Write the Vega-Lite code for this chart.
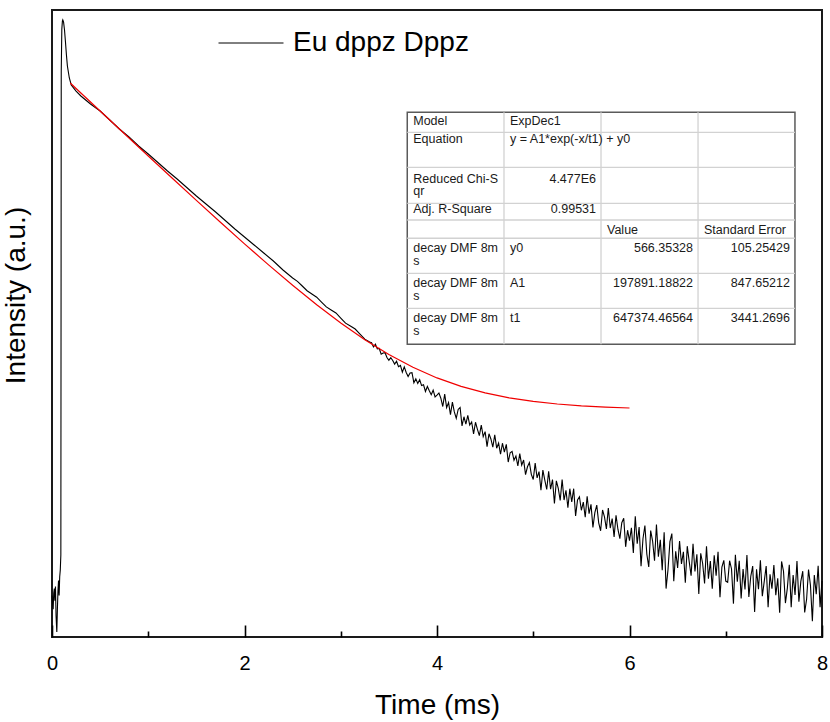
{
 "$schema": "https://vega.github.io/schema/vega-lite/v6.json",
 "width": 770,
 "height": 627,
 "autosize": {"type": "none"},
 "padding": {"left": 52, "top": 10, "right": 8, "bottom": 85},
 "config": {
  "font": "Liberation Sans",
  "view": {"stroke": "#1a1a1a", "strokeWidth": 2},
  "axis": {"grid": false}
 },
 "datasets": {
  "decay": [
   {"t":0,"I":24},{"t":0.006,"I":21},{"t":0.012,"I":19},{"t":0.018,"I":25},{"t":0.024,"I":27},{"t":0.03,"I":22},{"t":0.036,"I":28},{"t":0.042,"I":17},{"t":0.05,"I":12.9},{"t":0.056,"I":19},{"t":0.062,"I":26},{"t":0.068,"I":31},{"t":0.074,"I":24},{"t":0.08,"I":33},{"t":0.086,"I":37},{"t":0.092,"I":48},
   {"t":0.096,"I":180000},{"t":0.102,"I":370000},{"t":0.108,"I":425000},{"t":0.112,"I":433500},{"t":0.12,"I":418800},{"t":0.13,"I":365500},{"t":0.14,"I":298000},{"t":0.15,"I":238800},{"t":0.16,"I":198000},{"t":0.18,"I":161400},{"t":0.2,"I":143200},{"t":0.25,"I":129300},{"t":0.3,"I":118800},{"t":0.4,"I":103600},{"t":0.5,"I":91990},{"t":0.6,"I":78940},{"t":0.7,"I":67700},{"t":0.8,"I":59060},{"t":0.9,"I":50690},{"t":1.0,"I":44240},{"t":1.1,"I":38260},{"t":1.2,"I":33110},{"t":1.3,"I":28890},{"t":1.4,"I":25000},{"t":1.5,"I":21630},{"t":1.6,"I":18870},{"t":1.7,"I":16470},{"t":1.8,"I":14250},{"t":1.9,"I":12330},{"t":2.0,"I":10760},{"t":2.1,"I":9390},{"t":2.2,"I":8194},{"t":2.3,"I":7151},{"t":2.4,"I":6133},{"t":2.5,"I":5352},{"t":2.55,"I":5060},{"t":2.6,"I":4670},{"t":2.65,"I":4310},{"t":2.7,"I":4076},{"t":2.75,"I":3860},{"t":2.8,"I":3556},{"t":2.85,"I":3270},{"t":2.9,"I":3103},{"t":2.95,"I":2950},{"t":3.0,"I":2708},{"t":3.05,"I":2480},{"t":3.1,"I":2363},{"t":3.15,"I":2245},{"t":3.2,"I":2062},{"t":3.25,"I":1890},{"t":3.3,"I":1799},
   {"t":3.32,"I":1777},{"t":3.34,"I":1653},{"t":3.36,"I":1734},{"t":3.38,"I":1599},{"t":3.4,"I":1612},{"t":3.42,"I":1463},{"t":3.44,"I":1492},{"t":3.46,"I":1500},{"t":3.48,"I":1383},{"t":3.5,"I":1320},{"t":3.52,"I":1378},{"t":3.54,"I":1314},{"t":3.56,"I":1236},{"t":3.58,"I":1297},{"t":3.6,"I":1183},{"t":3.62,"I":1207},{"t":3.64,"I":1075},{"t":3.66,"I":1179},{"t":3.68,"I":1071},{"t":3.7,"I":1001},{"t":3.72,"I":1062},{"t":3.74,"I":1068},{"t":3.76,"I":900},{"t":3.78,"I":960},{"t":3.8,"I":889},{"t":3.82,"I":946},{"t":3.84,"I":857},{"t":3.86,"I":868},{"t":3.88,"I":775},{"t":3.9,"I":843},{"t":3.92,"I":784},{"t":3.94,"I":733},{"t":3.96,"I":792},{"t":3.98,"I":706},{"t":4.0,"I":727},
   {"t":4.02,"I":755},{"t":4.04,"I":691},{"t":4.06,"I":600},{"t":4.08,"I":740},{"t":4.1,"I":589},{"t":4.12,"I":641},{"t":4.14,"I":522},{"t":4.16,"I":646},{"t":4.18,"I":547},{"t":4.2,"I":491},{"t":4.22,"I":571},{"t":4.24,"I":591},{"t":4.26,"I":431},{"t":4.28,"I":504},{"t":4.3,"I":445},{"t":4.32,"I":516},{"t":4.34,"I":437},{"t":4.36,"I":461},{"t":4.38,"I":376},{"t":4.4,"I":459},{"t":4.42,"I":407},{"t":4.44,"I":366},{"t":4.46,"I":438},{"t":4.48,"I":359},{"t":4.5,"I":391},{"t":4.52,"I":303},{"t":4.54,"I":377},{"t":4.56,"I":345},{"t":4.58,"I":300},{"t":4.6,"I":371},{"t":4.62,"I":295},{"t":4.64,"I":322},{"t":4.66,"I":266},{"t":4.68,"I":321},{"t":4.7,"I":276},{"t":4.72,"I":315},{"t":4.74,"I":233},{"t":4.76,"I":273},{"t":4.78,"I":279},{"t":4.8,"I":240},{"t":4.82,"I":258},{"t":4.84,"I":218},{"t":4.86,"I":269},{"t":4.88,"I":221},{"t":4.9,"I":241},{"t":4.92,"I":188},{"t":4.94,"I":215},{"t":4.96,"I":231},{"t":4.98,"I":189},{"t":5.0,"I":173},
   {"t":5.02,"I":229},{"t":5.04,"I":178},{"t":5.06,"I":198},{"t":5.08,"I":144},{"t":5.1,"I":203},{"t":5.12,"I":171},{"t":5.14,"I":146},{"t":5.16,"I":199},{"t":5.18,"I":147},{"t":5.2,"I":173},{"t":5.22,"I":115},{"t":5.24,"I":169},{"t":5.26,"I":149},{"t":5.28,"I":121},{"t":5.3,"I":173},{"t":5.32,"I":122},{"t":5.34,"I":144},{"t":5.36,"I":107},{"t":5.38,"I":148},{"t":5.4,"I":118},{"t":5.42,"I":148},{"t":5.44,"I":93},{"t":5.46,"I":122},{"t":5.48,"I":129},{"t":5.5,"I":102.5},{"t":5.52,"I":117.7},{"t":5.54,"I":91},{"t":5.56,"I":130},{"t":5.58,"I":96.8},{"t":5.6,"I":113.4},{"t":5.62,"I":76.4},{"t":5.64,"I":98.5},{"t":5.66,"I":111.9},{"t":5.68,"I":82.7},{"t":5.7,"I":72.3},{"t":5.72,"I":103},{"t":5.74,"I":91.5},{"t":5.76,"I":74.5},{"t":5.78,"I":106.6},{"t":5.8,"I":75.7},{"t":5.82,"I":88.9},{"t":5.84,"I":65.1},{"t":5.86,"I":94.2},{"t":5.88,"I":73.9},{"t":5.9,"I":63.3},{"t":5.92,"I":82.9},{"t":5.94,"I":89.6},{"t":5.96,"I":55.0},{"t":5.98,"I":73.0},{"t":6.0,"I":61.1},
   {"t":6.02,"I":75.9},{"t":6.04,"I":49.5},{"t":6.06,"I":92.6},{"t":6.08,"I":57.9},{"t":6.1,"I":76.9},{"t":6.12,"I":39.5},{"t":6.14,"I":63.1},{"t":6.16,"I":79.1},{"t":6.18,"I":48.6},{"t":6.2,"I":39.0},{"t":6.22,"I":72.5},{"t":6.24,"I":60.7},{"t":6.26,"I":43.4},{"t":6.28,"I":80.4},{"t":6.3,"I":46.4},{"t":6.32,"I":62.0},{"t":6.34,"I":36.9},{"t":6.36,"I":70.4},{"t":6.38,"I":27},{"t":6.4,"I":37.3},{"t":6.42,"I":60.1},{"t":6.44,"I":69.0},{"t":6.46,"I":30.6},{"t":6.48,"I":51.0},{"t":6.5,"I":38.4},{"t":6.52,"I":60.7},{"t":6.54,"I":41.1},{"t":6.56,"I":50.6},{"t":6.58,"I":29.8},{"t":6.6,"I":55.6},{"t":6.62,"I":42.9},{"t":6.64,"I":33.6},{"t":6.66,"I":57.9},{"t":6.68,"I":36.1},{"t":6.7,"I":48.4},{"t":6.72,"I":24.6},{"t":6.74,"I":49.3},{"t":6.76,"I":41.4},{"t":6.78,"I":29.5},{"t":6.8,"I":55.5},{"t":6.82,"I":31.9},{"t":6.84,"I":43.1},{"t":6.86,"I":26.9},{"t":6.88,"I":47.7},{"t":6.9,"I":33.6},{"t":6.92,"I":50.5},{"t":6.94,"I":23.3},{"t":6.96,"I":39.0},{"t":6.98,"I":43.7},{"t":7.0,"I":30.7},
   {"t":7.02,"I":30.1},{"t":7.04,"I":43.4},{"t":7.06,"I":37.7},{"t":7.08,"I":20.9},{"t":7.1,"I":48.0},{"t":7.12,"I":30.4},{"t":7.14,"I":43.4},{"t":7.16,"I":22.8},{"t":7.18,"I":37.6},{"t":7.2,"I":26.6},{"t":7.22,"I":47.8},{"t":7.24,"I":23.4},{"t":7.26,"I":33.3},{"t":7.28,"I":39.6},{"t":7.3,"I":18.1},{"t":7.32,"I":37.5},{"t":7.34,"I":26.7},{"t":7.36,"I":43.8},{"t":7.38,"I":23.7},{"t":7.4,"I":30.5},{"t":7.42,"I":39.7},{"t":7.44,"I":19.7},{"t":7.46,"I":34.5},{"t":7.48,"I":27.0},{"t":7.5,"I":40.4},{"t":7.52,"I":24.1},{"t":7.54,"I":32.2},{"t":7.56,"I":17.9},{"t":7.58,"I":42.9},{"t":7.6,"I":36.3},{"t":7.62,"I":21.1},{"t":7.64,"I":27.2},{"t":7.66,"I":40.5},{"t":7.68,"I":19.7},{"t":7.7,"I":34.0},{"t":7.72,"I":24.2},{"t":7.74,"I":43.1},{"t":7.76,"I":21.6},{"t":7.78,"I":30.5},{"t":7.8,"I":36.3},{"t":7.82,"I":18.0},{"t":7.84,"I":22.5},{"t":7.86,"I":37.4},{"t":7.88,"I":28.6},{"t":7.9,"I":15.5},{"t":7.92,"I":34.0},{"t":7.94,"I":24.5},{"t":7.96,"I":39.8},{"t":7.98,"I":19.7},{"t":8.0,"I":30.8}
  ],
  "fit": [
   {"t":0.19,"I":148129},{"t":0.25,"I":135057},{"t":0.5,"I":91972},{"t":0.75,"I":62690},{"t":1.0,"I":42788},{"t":1.25,"I":29262},{"t":1.5,"I":20070},{"t":1.75,"I":13821},{"t":2.0,"I":9576},{"t":2.25,"I":6689},{"t":2.5,"I":4728},{"t":2.75,"I":3394},{"t":3.0,"I":2488},{"t":3.25,"I":1873},{"t":3.5,"I":1454},{"t":3.75,"I":1170},{"t":4.0,"I":976},{"t":4.25,"I":845},{"t":4.5,"I":756},{"t":4.75,"I":695},{"t":5.0,"I":654},{"t":5.25,"I":626},{"t":5.5,"I":607},{"t":5.75,"I":594},{"t":6.0,"I":585}
  ],
  "tableBox": [{"t": 3.691, "t2": 7.719, "I": 89970, "I2": 1730}],
  "tableRows": [
   {"t": 3.691, "t2": 7.719, "I": 64000},{"t": 3.691, "t2": 7.719, "I": 35270},{"t": 3.691, "t2": 7.719, "I": 19100},{"t": 3.691, "t2": 7.719, "I": 14380},{"t": 3.691, "t2": 7.719, "I": 10530},{"t": 3.691, "t2": 7.719, "I": 5800},{"t": 3.691, "t2": 7.719, "I": 3195}
  ],
  "tableCols": [
   {"t": 4.696, "I": 89970, "I2": 1730},{"t": 5.704, "I": 89970, "I2": 1730},{"t": 6.712, "I": 89970, "I2": 1730}
  ],
  "tableLeft": [
   {"t": 3.691, "I": 72480, "txt": "Model"},
   {"t": 4.696, "I": 72480, "txt": "ExpDec1"},
   {"t": 3.691, "I": 53070, "txt": "Equation"},
   {"t": 4.696, "I": 53070, "txt": "y = A1*exp(-x/t1) + y0"},
   {"t": 3.691, "I": 27080, "txt": "Reduced Chi-S\nqr"},
   {"t": 3.691, "I": 16060, "txt": "Adj. R-Square"},
   {"t": 5.704, "I": 11420, "txt": "Value"},
   {"t": 6.712, "I": 11420, "txt": "Standard Error"},
   {"t": 3.691, "I": 8333, "txt": "decay DMF 8m\ns"},
   {"t": 4.696, "I": 8333, "txt": "y0"},
   {"t": 3.691, "I": 4592, "txt": "decay DMF 8m\ns"},
   {"t": 4.696, "I": 4592, "txt": "A1"},
   {"t": 3.691, "I": 2530, "txt": "decay DMF 8m\ns"},
   {"t": 4.696, "I": 2530, "txt": "t1"}
  ],
  "tableRight": [
   {"t": 5.704, "I": 27080, "txt": "4.477E6"},
   {"t": 5.704, "I": 16060, "txt": "0.99531"},
   {"t": 6.712, "I": 8333, "txt": "566.35328"},
   {"t": 7.719, "I": 8333, "txt": "105.25429"},
   {"t": 6.712, "I": 4592, "txt": "197891.18822"},
   {"t": 7.719, "I": 4592, "txt": "847.65212"},
   {"t": 6.712, "I": 2530, "txt": "647374.46564"},
   {"t": 7.719, "I": 2530, "txt": "3441.2696"}
  ]
 },
 "layer": [
  {
   "data": {"name": "decay"},
   "mark": {"type": "line", "strokeWidth": 1.1, "interpolate": "linear"},
   "encoding": {
    "x": {"field": "t", "type": "quantitative",
     "scale": {"domain": [0, 8], "nice": false, "zero": false},
     "axis": {"title": "Time (ms)", "values": [0,1,2,3,4,5,6,7,8], "format": "d",
      "labelExpr": "datum.value % 2 === 0 ? datum.label : ''",
      "domain": false, "tickColor": "black", "tickWidth": 1.6,
      "tickSize": -12,
      "tickDash": {"condition": {"test": "datum.value % 2 === 0", "value": [20, 0]}, "value": [6, 20]},
      "labelFontSize": 20, "labelColor": "black", "labelBaseline": "alphabetic", "labelPadding": 44, "labelFlush": false,
      "titleFontSize": 28, "titleFontWeight": "normal", "titleColor": "black", "titleBaseline": "alphabetic", "titleY": 76}},
    "y": {"field": "I", "type": "quantitative",
     "scale": {"type": "log", "domain": [11.84, 513800], "nice": false},
     "axis": {"title": "Intensity (a.u.)", "ticks": false, "labels": false, "domain": false,
      "titleFontSize": 28, "titleFontWeight": "normal", "titleColor": "black",
      "titleX": -36, "titleY": 285, "titleBaseline": "middle", "titleAlign": "center", "titleAngle": -90}},
    "color": {"datum": "Eu dppz Dppz", "scale": {"range": ["black"]},
     "legend": {"orient": "none", "legendX": 166, "legendY": 0, "title": null, "padding": 0,
      "symbolType": "stroke", "symbolSize": 4225, "symbolStrokeWidth": 1, "symbolStrokeColor": "black",
      "labelFontSize": 28, "labelOffset": 9, "labelColor": "black", "labelLimit": 400}}
   }
  },
  {
   "data": {"name": "fit"},
   "mark": {"type": "line", "color": "#f00000", "strokeWidth": 1.2},
   "encoding": {
    "x": {"field": "t", "type": "quantitative"},
    "y": {"field": "I", "type": "quantitative"}
   }
  },
  {
   "data": {"name": "tableBox"},
   "mark": {"type": "rect", "fill": "white", "stroke": "#5a5a5a", "strokeWidth": 1.5},
   "encoding": {
    "x": {"field": "t", "type": "quantitative"}, "x2": {"field": "t2"},
    "y": {"field": "I", "type": "quantitative"}, "y2": {"field": "I2"}
   }
  },
  {
   "data": {"name": "tableRows"},
   "mark": {"type": "rule", "color": "#d2d2d2", "strokeWidth": 1.3},
   "encoding": {
    "x": {"field": "t", "type": "quantitative"}, "x2": {"field": "t2"},
    "y": {"field": "I", "type": "quantitative"}
   }
  },
  {
   "data": {"name": "tableCols"},
   "mark": {"type": "rule", "color": "#d2d2d2", "strokeWidth": 1.3},
   "encoding": {
    "x": {"field": "t", "type": "quantitative"},
    "y": {"field": "I", "type": "quantitative"}, "y2": {"field": "I2"}
   }
  },
  {
   "data": {"name": "tableLeft"},
   "mark": {"type": "text", "align": "left", "baseline": "alphabetic", "dx": 6, "fontSize": 12.5, "color": "#1a1a1a", "lineBreak": "\n", "lineHeight": 12.5},
   "encoding": {
    "x": {"field": "t", "type": "quantitative"},
    "y": {"field": "I", "type": "quantitative"},
    "text": {"field": "txt"}
   }
  },
  {
   "data": {"name": "tableRight"},
   "mark": {"type": "text", "align": "right", "baseline": "alphabetic", "dx": -5, "fontSize": 12.5, "color": "#1a1a1a"},
   "encoding": {
    "x": {"field": "t", "type": "quantitative"},
    "y": {"field": "I", "type": "quantitative"},
    "text": {"field": "txt"}
   }
  }
 ]
}
